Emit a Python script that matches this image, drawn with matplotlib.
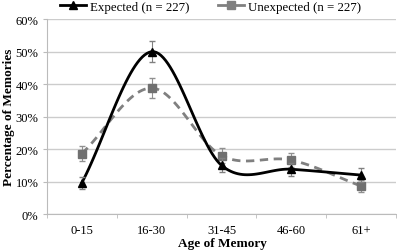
import numpy as np
import matplotlib
matplotlib.use('Agg')
import matplotlib.pyplot as plt

plt.rcParams['font.family'] = ['Liberation Serif', 'DejaVu Serif']

categories = ['0-15', '16-30', '31-45', '46-60', '61+']
expected = [9.6, 50.0, 15.0, 13.8, 12.0]
expected_err = [1.8, 3.3, 2.2, 2.0, 2.2]
unexpected = [18.6, 38.8, 18.0, 16.6, 8.6]
unexpected_err = [2.4, 3.2, 2.2, 2.2, 1.8]


def smooth(y, n=30):
    # Catmull-Rom curve through the points (like Excel "smoothed line")
    y = np.asarray(y, float)
    x = np.arange(len(y), dtype=float)
    px = np.concatenate([[2 * x[0] - x[1]], x, [2 * x[-1] - x[-2]]])
    py = np.concatenate([[2 * y[0] - y[1]], y, [2 * y[-1] - y[-2]]])
    xs, ys = [], []
    for i in range(1, len(px) - 2):
        t = np.linspace(0, 1, n, endpoint=(i == len(px) - 3))
        for p, out in ((px, xs), (py, ys)):
            p0, p1, p2, p3 = p[i - 1], p[i], p[i + 1], p[i + 2]
            out.append(0.5 * (2 * p1 + (-p0 + p2) * t + (2 * p0 - 5 * p1 + 4 * p2 - p3) * t ** 2
                              + (-p0 + 3 * p1 - 3 * p2 + p3) * t ** 3))
    return np.concatenate(xs), np.concatenate(ys)


fig = plt.figure(figsize=(3.97, 2.53), dpi=100)
ax = fig.add_axes([0.118, 0.15, 0.88, 0.77])
x = np.arange(len(categories))

sx, sy = smooth(unexpected)
ax.plot(sx, sy, color='#808080', lw=2, ls=(0, (3, 2)), zorder=3)
ax.errorbar(x, unexpected, yerr=unexpected_err, fmt='none', ecolor='#909090', elinewidth=0.8, capsize=2, zorder=3)
ax.plot(x, unexpected, 's', color='#707070', ms=6, zorder=4)

sx, sy = smooth(expected)
ax.plot(sx, sy, color='black', lw=2, zorder=5)
ax.errorbar(x, expected, yerr=expected_err, fmt='none', ecolor='#808080', elinewidth=0.8, capsize=2, zorder=5)
ax.plot(x, expected, '^', color='black', ms=6, zorder=6)

h1, = ax.plot([], [], color='black', lw=2, marker='^', ms=6)
h2, = ax.plot([], [], color='#808080', lw=2, marker='s', ms=6)
fig.legend([h1, h2], ['Expected (n = 227)', 'Unexpected (n = 227)'], loc='upper center',
           bbox_to_anchor=(0.53, 1.04), ncol=2, frameon=False, fontsize=9.3,
           handlelength=2.0, columnspacing=2.2, handletextpad=0.3)

ax.set_xlim(-0.5, len(categories) - 0.5)
ax.set_ylim(0, 60)
ax.set_yticks(range(0, 61, 10))
ax.set_yticklabels([f'{v}%' for v in range(0, 61, 10)])
ax.set_xticks(x)
ax.set_xticklabels(categories)
ax.set_xticks(np.arange(-0.5, len(categories), 1), minor=True)
ax.tick_params(axis='x', which='major', length=0, pad=7)
ax.tick_params(axis='x', which='minor', length=3, color='#bbbbbb')
ax.tick_params(axis='y', length=3, color='#bbbbbb', pad=3)
ax.tick_params(labelsize=9)
ax.grid(axis='y', color='#cccccc', lw=1)
ax.set_axisbelow(True)
for s in ['top', 'right']:
    ax.spines[s].set_visible(False)
for s in ['left', 'bottom']:
    ax.spines[s].set_color('#bbbbbb')

fig.text(0.56, 0.01, 'Age of Memory', fontweight='bold', fontsize=9.5, ha='center', va='bottom')
fig.text(0.008, 0.535, 'Percentage of Memories', fontweight='bold', fontsize=9.5,
         rotation=90, ha='left', va='center')

fig.savefig('out.png', dpi=100)
